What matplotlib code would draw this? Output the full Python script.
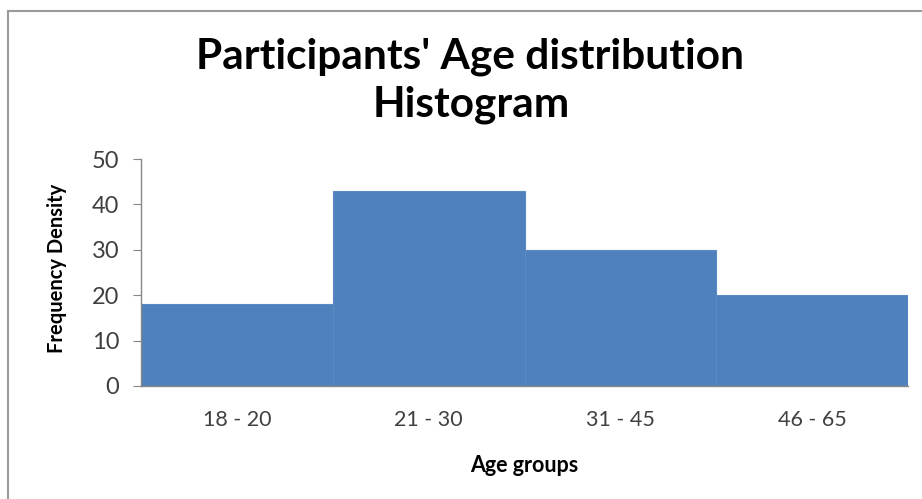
import matplotlib.pyplot as plt
from matplotlib.patches import Rectangle

ageGroups = ['18 - 20', '21 - 30', '31 - 45', '46 - 65']
frequencyDensity = [18, 43, 30, 20]
yTicks = [0, 10, 20, 30, 40, 50]

barColor = '#4F81BD'
axisColor = '#868686'
textColor = '#404040'

plt.rcParams['font.family'] = ['Lato', 'DejaVu Sans']

fig = plt.figure(figsize=(9.22, 4.99), dpi=100)
W, H = 922, 499

# outer chart border (only left and top visible in the crop)
fig.patches.append(Rectangle((8 / W, -0.05), 1.2, 1 - 11 / H + 0.05,
                             transform=fig.transFigure, fill=False,
                             edgecolor='#9a9a9a', linewidth=1.5))

ax = fig.add_axes([141 / W, 1 - 386 / H, (908 - 141) / W, (386 - 159) / H])

x = list(range(len(ageGroups)))
ax.bar(x, frequencyDensity, width=1.0, color=barColor,
       edgecolor='#5B8AC4', linewidth=0.8)

ax.set_xlim(-0.5, len(ageGroups) - 0.5)
ax.set_ylim(0, 50)
ax.set_yticks(yTicks)
ax.set_xticks(x)
ax.set_xticklabels(ageGroups)

for side in ['top', 'right']:
    ax.spines[side].set_visible(False)
for side in ['left', 'bottom']:
    ax.spines[side].set_color(axisColor)
    ax.spines[side].set_linewidth(1.0)

ax.tick_params(axis='y', direction='out', length=6, color=axisColor,
               labelsize=17, labelcolor=textColor, pad=9.5)
ax.tick_params(axis='x', length=0, labelsize=15.5, labelcolor=textColor, pad=17)

ax.set_ylabel('Frequency Density', fontsize=14.5, fontweight='bold',
              color='black')
ax.yaxis.set_label_coords(-0.097, 0.52)
ax.set_xlabel('Age groups', fontsize=15.5, fontweight='bold', color='black')
ax.xaxis.set_label_coords(0.5, -0.305)

fig.text(470 / W, 1 - 68 / H, "Participants' Age distribution",
         ha='center', va='baseline', fontsize=30.5, fontweight='bold',
         color='black')
fig.text(471 / W, 1 - 117 / H, "Histogram",
         ha='center', va='baseline', fontsize=30.5, fontweight='bold',
         color='black')

fig.savefig('out.png', dpi=100, facecolor='white')
